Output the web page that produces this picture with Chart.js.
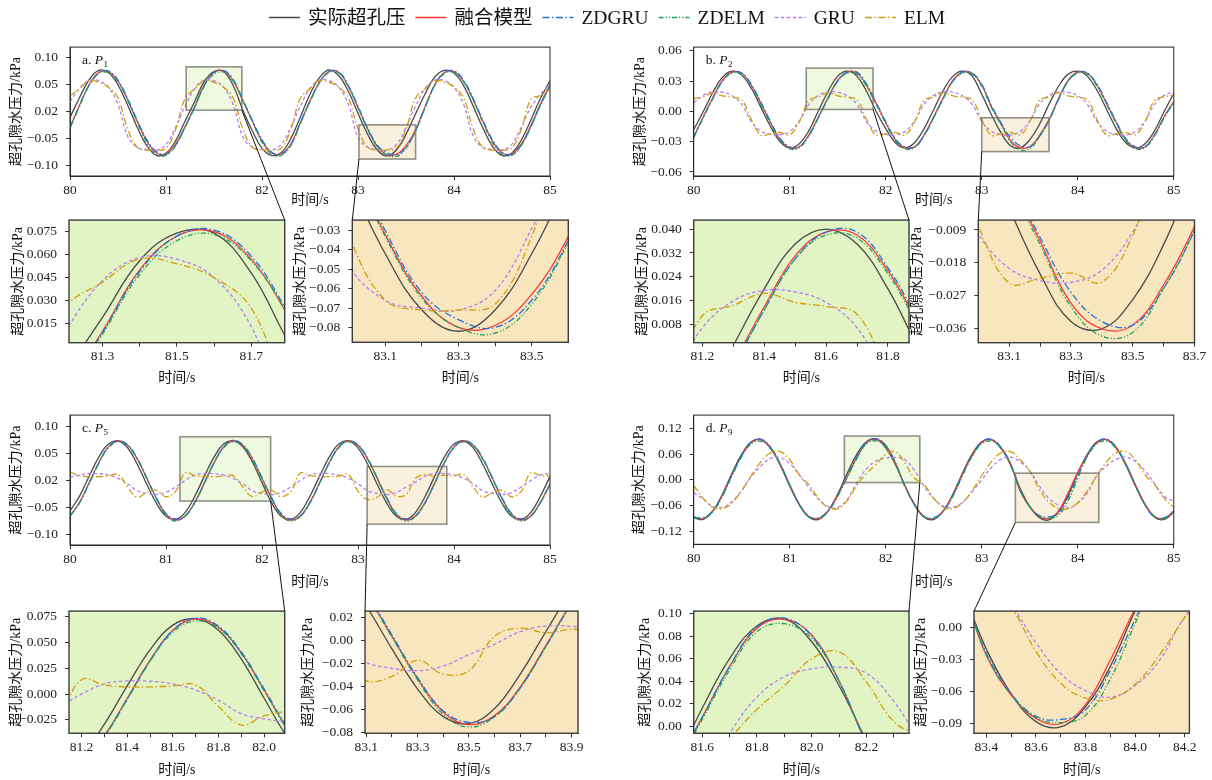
<!DOCTYPE html>
<html>
<head>
<meta charset="utf-8">
<script src="https://cdn.jsdelivr.net/npm/chart.js@4.4.0/dist/chart.umd.min.js"></script>
<style>
body { margin: 0; background: #fff; width: 1212px; height: 780px; position: relative; overflow: hidden; }
canvas { position: absolute; }
</style>
</head>
<body>
<script>
// time axis shared by every panel (s)
const times = [80.0,80.1,80.2,80.3,80.4,80.5,80.6,80.7,80.8,80.9,81.0,81.1,81.2,81.3,81.4,81.5,81.6,81.7,81.8,81.9,82.0,82.1,82.2,82.3,82.4,82.5,82.6,82.7,82.8,82.9,83.0,83.1,83.2,83.3,83.4,83.5,83.6,83.7,83.8,83.9,84.0,84.1,84.2,84.3,84.4,84.5,84.6,84.7,84.8,84.9,85.0];

const seriesNames = ['实际超孔压', '融合模型', 'ZDGRU', 'ZDELM', 'GRU', 'ELM'];

// ---- a. P1 ----
const aActual = [-0.011,0.026,0.059,0.076,0.072,0.049,0.012,-0.029,-0.063,-0.081,-0.077,-0.054,
 -0.017,0.019,0.056,0.074,0.074,0.048,0.003,-0.036,-0.068,-0.081,-0.076,-0.050,
 -0.010,0.032,0.063,0.077,0.066,0.037,-0.003,-0.042,-0.071,-0.082,-0.071,-0.042,
 -0.004,0.033,0.064,0.076,0.071,0.048,0.010,-0.030,-0.064,-0.081,-0.077,-0.053,
 -0.016,0.024,0.057];
const aFusion = [-0.029,0.012,0.050,0.072,0.074,0.056,0.022,-0.018,-0.054,-0.076,-0.078,-0.060,
 -0.027,0.010,0.050,0.072,0.075,0.057,0.020,-0.018,-0.054,-0.076,-0.078,-0.060,
 -0.020,0.020,0.055,0.074,0.072,0.046,0.008,-0.032,-0.064,-0.080,-0.079,-0.063,
 -0.033,0.010,0.050,0.072,0.074,0.056,0.022,-0.018,-0.054,-0.076,-0.078,-0.060,
 -0.026,0.014,0.050];
const aZdgru = [-0.030,0.011,0.049,0.071,0.075,0.058,0.024,-0.016,-0.052,-0.074,-0.079,-0.062,
 -0.028,0.009,0.049,0.072,0.076,0.059,0.022,-0.016,-0.052,-0.075,-0.079,-0.061,
 -0.021,0.019,0.054,0.074,0.073,0.048,0.010,-0.030,-0.062,-0.076,-0.080,-0.066,
 -0.035,0.008,0.049,0.072,0.075,0.058,0.024,-0.016,-0.052,-0.075,-0.079,-0.062,
 -0.028,0.012,0.048];
const aZdelm = [-0.031,0.010,0.048,0.070,0.072,0.055,0.021,-0.020,-0.057,-0.079,-0.081,-0.063,
 -0.029,0.008,0.047,0.069,0.073,0.056,0.021,-0.019,-0.057,-0.079,-0.081,-0.063,
 -0.022,0.018,0.053,0.072,0.071,0.046,0.007,-0.033,-0.065,-0.080,-0.083,-0.068,
 -0.036,0.007,0.048,0.070,0.072,0.055,0.021,-0.020,-0.057,-0.079,-0.081,-0.063,
 -0.029,0.011,0.047];
const aGru = [0.018,0.043,0.058,0.057,0.045,0.013,-0.045,-0.066,-0.070,-0.071,-0.061,-0.029,
 0.010,0.043,0.058,0.057,0.045,0.013,-0.047,-0.066,-0.070,-0.071,-0.061,-0.029,
 0.010,0.043,0.058,0.057,0.045,0.013,-0.047,-0.066,-0.070,-0.071,-0.061,-0.029,
 0.010,0.043,0.058,0.057,0.045,0.013,-0.045,-0.066,-0.070,-0.071,-0.061,-0.029,
 0.008,0.032,0.050];
const aElm = [0.029,0.042,0.057,0.054,0.045,0.025,-0.032,-0.066,-0.071,-0.071,-0.068,-0.033,
 0.025,0.042,0.057,0.054,0.045,0.025,-0.032,-0.066,-0.071,-0.071,-0.068,-0.033,
 0.025,0.042,0.057,0.054,0.045,0.025,-0.032,-0.066,-0.071,-0.071,-0.068,-0.033,
 0.025,0.042,0.057,0.054,0.045,0.025,-0.032,-0.066,-0.071,-0.071,-0.068,-0.033,
 0.022,0.030,0.040];

// ---- b. P2 ----
const bActual = [-0.018,0.000,0.019,0.034,0.040,0.036,0.023,0.004,-0.015,-0.030,-0.036,-0.032,
 -0.019,0.001,0.020,0.035,0.040,0.035,0.020,0.000,-0.017,-0.031,-0.036,-0.031,
 -0.017,0.002,0.021,0.035,0.040,0.035,0.017,-0.003,-0.021,-0.034,-0.036,-0.028,
 -0.013,0.007,0.025,0.037,0.040,0.035,0.021,0.002,-0.017,-0.031,-0.036,-0.032,
 -0.019,0.000,0.018];
const bFusion = [-0.025,-0.005,0.014,0.031,0.039,0.038,0.026,0.008,-0.011,-0.028,-0.036,-0.035,
 -0.023,-0.005,0.014,0.031,0.039,0.038,0.026,0.008,-0.011,-0.028,-0.036,-0.035,
 -0.023,-0.005,0.014,0.031,0.039,0.038,0.026,0.005,-0.012,-0.029,-0.036,-0.035,
 -0.024,-0.008,0.013,0.031,0.039,0.038,0.026,0.008,-0.011,-0.028,-0.036,-0.035,
 -0.023,-0.005,0.010];
const bZdgru = [-0.026,-0.006,0.013,0.030,0.039,0.038,0.027,0.009,-0.010,-0.027,-0.035,-0.035,
 -0.024,-0.006,0.013,0.030,0.039,0.039,0.027,0.009,-0.010,-0.027,-0.035,-0.035,
 -0.024,-0.006,0.013,0.030,0.039,0.038,0.027,0.006,-0.011,-0.026,-0.034,-0.035,
 -0.025,-0.009,0.012,0.030,0.039,0.038,0.027,0.009,-0.010,-0.027,-0.035,-0.035,
 -0.024,-0.006,0.009];
const bZdelm = [-0.025,-0.006,0.013,0.030,0.038,0.037,0.025,0.007,-0.012,-0.029,-0.037,-0.036,
 -0.024,-0.006,0.013,0.030,0.038,0.037,0.025,0.007,-0.012,-0.029,-0.037,-0.036,
 -0.024,-0.006,0.013,0.030,0.038,0.037,0.025,0.004,-0.013,-0.030,-0.038,-0.037,
 -0.025,-0.009,0.012,0.030,0.038,0.037,0.025,0.007,-0.012,-0.029,-0.037,-0.036,
 -0.024,-0.006,0.009];
const bGru = [0.0085,0.016,0.0195,0.019,0.0155,0.007,-0.010,-0.0195,-0.0228,-0.0233,-0.020,-0.0095,
 0.007,0.016,0.0195,0.019,0.0155,0.007,-0.010,-0.0195,-0.0228,-0.0233,-0.020,-0.0095,
 0.007,0.016,0.0195,0.019,0.0155,0.007,-0.010,-0.0195,-0.0228,-0.0233,-0.020,-0.0095,
 0.007,0.016,0.0195,0.019,0.0155,0.007,-0.010,-0.0195,-0.0228,-0.0233,-0.020,-0.0095,
 0.007,0.016,0.019];
const bElm = [0.0125,0.0145,0.0185,0.0155,0.0141,0.0115,-0.008,-0.0235,-0.0222,-0.0208,-0.0232,-0.0105,
 0.011,0.0145,0.0185,0.0155,0.0141,0.0115,-0.008,-0.0235,-0.0222,-0.0208,-0.0232,-0.0105,
 0.011,0.0145,0.0185,0.0155,0.0141,0.0115,-0.008,-0.0235,-0.0222,-0.0208,-0.0232,-0.0105,
 0.011,0.0145,0.0185,0.0155,0.0141,0.0115,-0.008,-0.0235,-0.0222,-0.0208,-0.0232,-0.0105,
 0.011,0.0145,0.016];

// ---- c. P5 ----
const cActual = [-0.056,-0.029,0.008,0.043,0.067,0.073,0.060,0.030,-0.007,-0.042,-0.066,-0.072,
 -0.059,-0.029,0.008,0.043,0.067,0.073,0.062,0.034,-0.004,-0.041,-0.066,-0.072,
 -0.059,-0.029,0.008,0.043,0.067,0.073,0.060,0.030,-0.007,-0.042,-0.066,-0.072,
 -0.059,-0.029,0.008,0.043,0.067,0.073,0.060,0.030,-0.007,-0.042,-0.066,-0.072,
 -0.059,-0.029,0.007];
const cFusion = [-0.066,-0.040,-0.004,0.033,0.062,0.073,0.065,0.040,0.004,-0.033,-0.062,-0.073,
 -0.065,-0.040,-0.004,0.033,0.062,0.073,0.065,0.040,0.004,-0.033,-0.062,-0.073,
 -0.065,-0.040,-0.004,0.033,0.062,0.073,0.065,0.040,0.004,-0.033,-0.062,-0.073,
 -0.065,-0.040,-0.004,0.033,0.062,0.073,0.065,0.040,0.004,-0.033,-0.062,-0.073,
 -0.065,-0.040,-0.006];
const cZdgru = [-0.066,-0.041,-0.005,0.032,0.062,0.073,0.066,0.041,0.005,-0.032,-0.061,-0.071,
 -0.066,-0.041,-0.005,0.032,0.062,0.074,0.066,0.041,0.005,-0.032,-0.061,-0.071,
 -0.066,-0.041,-0.005,0.032,0.062,0.073,0.066,0.041,0.005,-0.032,-0.061,-0.071,
 -0.066,-0.041,-0.005,0.032,0.062,0.073,0.066,0.041,0.005,-0.032,-0.061,-0.071,
 -0.066,-0.041,-0.007];
const cZdelm = [-0.066,-0.041,-0.005,0.032,0.060,0.071,0.064,0.039,0.003,-0.034,-0.064,-0.075,
 -0.066,-0.041,-0.005,0.032,0.060,0.071,0.064,0.039,0.003,-0.034,-0.064,-0.075,
 -0.066,-0.041,-0.005,0.032,0.060,0.071,0.064,0.039,0.003,-0.034,-0.064,-0.075,
 -0.066,-0.041,-0.005,0.032,0.060,0.071,0.064,0.039,0.003,-0.034,-0.064,-0.075,
 -0.066,-0.041,-0.007];
const cGru = [0.006,0.010,0.0128,0.0125,0.010,0.004,-0.006,-0.019,-0.024,-0.026,-0.022,-0.012,
 0.000,0.010,0.0128,0.0125,0.010,0.004,-0.006,-0.019,-0.024,-0.026,-0.022,-0.012,
 0.000,0.010,0.0128,0.0125,0.010,0.004,-0.006,-0.019,-0.024,-0.026,-0.022,-0.012,
 -0.003,0.008,0.0128,0.0125,0.010,0.004,-0.006,-0.019,-0.024,-0.026,-0.022,-0.012,
 0.000,0.010,0.0128];
const cElm = [0.016,0.009,0.007,0.007,0.008,0.011,-0.012,-0.031,-0.022,-0.018,-0.030,-0.020,
 0.014,0.009,0.007,0.007,0.008,0.009,-0.012,-0.030,-0.021,-0.018,-0.030,-0.020,
 0.014,0.009,0.007,0.007,0.008,0.011,-0.020,-0.035,-0.031,-0.017,-0.029,-0.026,
 0.004,0.011,0.007,0.010,0.008,0.011,-0.012,-0.031,-0.022,-0.018,-0.030,-0.020,
 0.014,0.009,0.008];

// ---- d. P9 ----
const dActual = [-0.088,-0.092,-0.072,-0.033,0.016,0.060,0.089,0.094,0.074,0.035,-0.014,-0.058,
 -0.087,-0.092,-0.072,-0.033,0.016,0.060,0.089,0.095,0.075,0.036,-0.013,-0.058,
 -0.087,-0.092,-0.072,-0.033,0.016,0.060,0.089,0.094,0.074,0.035,-0.020,-0.062,
 -0.088,-0.093,-0.074,-0.036,0.016,0.060,0.089,0.094,0.074,0.035,-0.014,-0.058,
 -0.087,-0.092,-0.075];
const dFusion = [-0.086,-0.090,-0.072,-0.035,0.013,0.057,0.087,0.094,0.076,0.038,-0.011,-0.056,
 -0.085,-0.090,-0.072,-0.035,0.008,0.053,0.087,0.095,0.081,0.040,-0.015,-0.056,
 -0.085,-0.090,-0.072,-0.035,0.013,0.057,0.087,0.094,0.076,0.038,-0.026,-0.063,
 -0.085,-0.090,-0.072,-0.030,0.018,0.057,0.087,0.094,0.076,0.038,-0.011,-0.056,
 -0.085,-0.090,-0.072];
const dZdgru = [-0.087,-0.088,-0.072,-0.036,0.012,0.057,0.088,0.095,0.076,0.037,-0.012,-0.057,
 -0.086,-0.088,-0.072,-0.036,0.008,0.053,0.088,0.096,0.080,0.040,-0.015,-0.057,
 -0.086,-0.088,-0.072,-0.036,0.012,0.057,0.088,0.095,0.076,0.037,-0.024,-0.062,
 -0.083,-0.086,-0.077,-0.040,0.008,0.057,0.088,0.095,0.076,0.037,-0.012,-0.057,
 -0.086,-0.088,-0.073];
const dZdelm = [-0.087,-0.090,-0.074,-0.038,0.010,0.054,0.084,0.090,0.073,0.036,-0.012,-0.058,
 -0.086,-0.090,-0.074,-0.038,0.006,0.050,0.084,0.091,0.078,0.040,-0.015,-0.058,
 -0.086,-0.090,-0.074,-0.038,0.010,0.054,0.084,0.090,0.073,0.036,-0.025,-0.063,
 -0.084,-0.089,-0.082,-0.048,0.004,0.054,0.084,0.090,0.073,0.036,-0.012,-0.058,
 -0.086,-0.090,-0.075];
const dGru = [-0.030,-0.045,-0.062,-0.064,-0.050,-0.024,0.008,0.033,0.050,0.052,0.038,0.012,
 -0.018,-0.045,-0.062,-0.064,-0.045,-0.006,0.026,0.044,0.051,0.0525,0.047,0.022,
 -0.015,-0.043,-0.061,-0.064,-0.052,-0.027,0.000,0.029,0.048,0.053,0.042,0.021,
 -0.014,-0.043,-0.059,-0.065,-0.054,-0.030,0.010,0.033,0.048,0.053,0.043,0.021,
 -0.009,-0.038,-0.050];
const dElm = [-0.013,-0.043,-0.064,-0.067,-0.053,-0.025,0.010,0.042,0.063,0.066,0.047,0.012,
 -0.011,-0.043,-0.064,-0.067,-0.048,-0.012,0.015,0.036,0.060,0.066,0.039,0.004,
 -0.011,-0.043,-0.064,-0.067,-0.053,-0.025,0.010,0.042,0.063,0.066,0.047,0.020,
 -0.022,-0.052,-0.066,-0.067,-0.053,-0.025,0.010,0.042,0.063,0.066,0.047,0.012,
 -0.011,-0.043,-0.064];

// zoom windows [xmin, xmax, ymin, ymax]
const aWin1 = [81.21, 81.79, 0.0025, 0.0825];
const aWin2 = [83.01, 83.60, -0.0877, -0.0246];
const bWin1 = [81.172, 81.868, 0.002, 0.043];
const bWin2 = [83.0, 83.7, -0.0398, -0.0063];
const cWin1 = [81.145, 82.09, -0.038, 0.0806];
const cWin2 = [83.095, 83.925, -0.0805, 0.0258];
const dWin1 = [81.569, 82.355, -0.0062, 0.1022];
const dWin2 = [83.35, 84.219, -0.099, 0.0158];

// tick values and labels
const mainXTicks = [80, 81, 82, 83, 84, 85];
const mainXLabels = ['80', '81', '82', '83', '84', '85'];
const acYTicks = [0.10, 0.05, 0, -0.05, -0.10];
const acYLabels = ['0.10', '0.05', '0.02', '−0.05', '−0.10'];
const bYTicks = [0.06, 0.03, 0, -0.03, -0.06];
const bYLabels = ['0.06', '0.03', '0.00', '−0.03', '−0.06'];
const dYTicks = [0.12, 0.06, 0, -0.06, -0.12];
const dYLabels = ['0.12', '0.06', '0.00', '−0.06', '−0.12'];

const a1XTicks = [81.3, 81.4, 81.5, 81.6, 81.7];
const a1XLabels = ['81.3', '', '81.5', '', '81.7'];
const a1YTicks = [0.075, 0.060, 0.045, 0.030, 0.015];
const a1YLabels = ['0.075', '0.060', '0.045', '0.030', '0.015'];
const a2XTicks = [83.1, 83.2, 83.3, 83.4, 83.5];
const a2XLabels = ['83.1', '', '83.3', '', '83.5'];
const a2YTicks = [-0.03, -0.04, -0.05, -0.06, -0.07, -0.08];
const a2YLabels = ['−0.03', '−0.04', '−0.05', '−0.06', '−0.07', '−0.08'];
const b1XTicks = [81.2, 81.3, 81.4, 81.5, 81.6, 81.7, 81.8];
const b1XLabels = ['81.2', '', '81.4', '', '81.6', '', '81.8'];
const b1YTicks = [0.040, 0.032, 0.024, 0.016, 0.008];
const b1YLabels = ['0.040', '0.032', '0.024', '0.016', '0.008'];
const b2XTicks = [83.1, 83.2, 83.3, 83.4, 83.5, 83.6, 83.7];
const b2XLabels = ['83.1', '', '83.3', '', '83.5', '', '83.7'];
const b2YTicks = [-0.009, -0.018, -0.027, -0.036];
const b2YLabels = ['−0.009', '−0.018', '−0.027', '−0.036'];
const c1XTicks = [81.2, 81.3, 81.4, 81.5, 81.6, 81.7, 81.8, 81.9, 82.0];
const c1XLabels = ['81.2', '', '81.4', '', '81.6', '', '81.8', '', '82.0'];
const c1YTicks = [0.075, 0.050, 0.025, 0, -0.025];
const c1YLabels = ['0.075', '0.050', '0.025', '0.000', '−0.025'];
const c2XTicks = [83.1, 83.2, 83.3, 83.4, 83.5, 83.6, 83.7, 83.8, 83.9];
const c2XLabels = ['83.1', '', '83.3', '', '83.5', '', '83.7', '', '83.9'];
const c2YTicks = [0.02, 0, -0.02, -0.04, -0.06, -0.08];
const c2YLabels = ['0.02', '0.00', '−0.02', '−0.04', '−0.06', '−0.08'];
const d1XTicks = [81.6, 81.7, 81.8, 81.9, 82.0, 82.1, 82.2, 82.3];
const d1XLabels = ['81.6', '', '81.8', '', '82.0', '', '82.2', ''];
const d1YTicks = [0.10, 0.08, 0.06, 0.04, 0.02, 0];
const d1YLabels = ['0.10', '0.08', '0.06', '0.04', '0.02', '0.00'];
const d2XTicks = [83.4, 83.5, 83.6, 83.7, 83.8, 83.9, 84.0, 84.1, 84.2];
const d2XLabels = ['83.4', '', '83.6', '', '83.8', '', '84.0', '', '84.2'];
const d2YTicks = [0, -0.03, -0.06, -0.09];
const d2YLabels = ['0.00', '−0.03', '−0.06', '−0.09'];

const FONT = "'Liberation Serif', 'Noto Sans CJK SC', serif";
const keys = ['actual', 'fusion', 'zdgru', 'zdelm', 'gru', 'elm'];
const COLORS = { actual: '#4a4a4a', fusion: '#ff3131', zdgru: '#1f6fe5', zdelm: '#22a05a', gru: '#b47ff0', elm: '#d39e0c' };
const DASH = { actual: [], fusion: [], zdgru: [7, 2.5, 1.5, 2.5], zdelm: [5, 2, 1.2, 2, 1.2, 2], gru: [3.5, 2.5], elm: [7, 2.5, 1.5, 2.5] };
const GREEN_BG = '#e2f4c4', TAN_BG = '#f8e6be';

Chart.defaults.animation = false;
Chart.defaults.events = [];
Chart.defaults.font.family = FONT;

const boxPlugin = {
  id: 'box',
  beforeDatasetsDraw(chart, args, o) {
    const ctx = chart.ctx, a = chart.chartArea;
    ctx.save();
    if (o.bg) {
      ctx.fillStyle = o.bg;
      ctx.fillRect(a.left, a.top, a.right - a.left, a.bottom - a.top);
    }
    (o.rects || []).forEach(r => {
      const x0 = chart.scales.x.getPixelForValue(r.win[0]), x1 = chart.scales.x.getPixelForValue(r.win[1]);
      const y0 = chart.scales.y.getPixelForValue(r.win[2]), y1 = chart.scales.y.getPixelForValue(r.win[3]);
      ctx.fillStyle = r.fill;
      ctx.fillRect(x0, y1, x1 - x0, y0 - y1);
    });
    ctx.restore();
  },
  afterDatasetsDraw(chart, args, o) {
    const ctx = chart.ctx, a = chart.chartArea;
    ctx.save();
    (o.rects || []).forEach(r => {
      const x0 = chart.scales.x.getPixelForValue(r.win[0]), x1 = chart.scales.x.getPixelForValue(r.win[1]);
      const y0 = chart.scales.y.getPixelForValue(r.win[2]), y1 = chart.scales.y.getPixelForValue(r.win[3]);
      ctx.strokeStyle = 'rgba(110,110,100,0.75)';
      ctx.lineWidth = 1.6;
      ctx.strokeRect(x0, y1, x1 - x0, y0 - y1);
    });
    ctx.strokeStyle = o.bg ? '#3c3c3c' : '#222';
    ctx.lineWidth = o.bg ? 1.4 : 1;
    ctx.strokeRect(a.left, a.top, a.right - a.left, a.bottom - a.top);
    if (o.letter) {
      let x = a.left + 12, y = a.top + 16.5;
      ctx.fillStyle = '#111';
      ctx.font = '13.5px ' + FONT;
      ctx.fillText(o.letter + '. ', x, y);
      x += ctx.measureText(o.letter + '. ').width;
      ctx.font = 'italic 13.5px ' + FONT;
      ctx.fillText('P', x, y);
      x += ctx.measureText('P').width + 0.5;
      ctx.font = '9px ' + FONT;
      ctx.fillText(o.sub, x, y + 3);
    }
    ctx.restore();
  }
};
Chart.register(boxPlugin);

function makeSets(vals) {
  return keys.map((k, i) => ({
    label: seriesNames[i],
    data: times.map((t, j) => ({ x: t, y: vals[i][j] })),
    borderColor: COLORS[k],
    borderDash: DASH[k],
    borderWidth: k === 'fusion' ? 1.2 : 1.3,
    pointRadius: 0,
    tension: 0.4,
    fill: false,
    clip: 0,
    order: 6 - i
  }));
}

function axis(min, max, ticks, labels, fit, title, pad) {
  return {
    type: 'linear', min: min, max: max,
    afterFit: fit,
    afterBuildTicks: s => { s.ticks = ticks.map(v => ({ value: v })); },
    ticks: { callback: (v, i) => labels[i], font: { family: FONT, size: 13.5 }, color: '#222', padding: pad, maxRotation: 0, autoSkip: false },
    grid: { drawOnChartArea: false, drawTicks: true, tickLength: 4, color: '#333', tickColor: '#333' },
    border: { display: true, color: '#333', width: 1 },
    title: { display: true, text: title, font: { family: FONT, size: 14 }, color: '#111', padding: 0 }
  };
}

function build(spec) {
  const [l, t, r, b] = spec.area;
  const cl = Math.floor(spec.yTitleX - 8.4);
  const ct = Math.floor(t - 10);
  const cw = Math.ceil(r + 16 - cl);
  const ch = Math.ceil(spec.xTitleY + 8.4 - ct);
  const cv = document.createElement('canvas');
  cv.width = cw; cv.height = ch;
  cv.style.left = cl + 'px'; cv.style.top = ct + 'px';
  document.body.appendChild(cv);
  const yW = l - cl;
  const xH = ch - (b - ct);
  const chart = new Chart(cv, {
    type: 'line',
    data: { datasets: makeSets(spec.vals) },
    options: {
      responsive: false,
      maintainAspectRatio: false,
      layout: { padding: { top: t - ct, right: cl + cw - r, left: 0, bottom: 0 } },
      scales: {
        x: axis(spec.xr[0], spec.xr[1], spec.xt, spec.xl, s => { s.height = xH; }, '时间/s', 2),
        y: axis(spec.yr[0], spec.yr[1], spec.yt, spec.yl, s => { s.width = yW; }, '超孔隙水压力/kPa', 8)
      },
      plugins: {
        legend: { display: false },
        tooltip: { enabled: false },
        box: { bg: spec.bg, rects: spec.rects, letter: spec.letter, sub: spec.sub }
      }
    }
  });
  const dr = cl + chart.chartArea.right - r;
  if (Math.abs(dr) > 0.3) {
    chart.options.layout.padding.right += dr;
    chart.update('none');
  }
  chart.$left = cl; chart.$top = ct;
  return chart;
}

const greenRect = 'rgba(205,238,165,0.35)', tanRect = 'rgba(238,212,160,0.35)';
const aVals = [aActual, aFusion, aZdgru, aZdelm, aGru, aElm];
const bVals = [bActual, bFusion, bZdgru, bZdelm, bGru, bElm];
const cVals = [cActual, cFusion, cZdgru, cZdelm, cGru, cElm];
const dVals = [dActual, dFusion, dZdgru, dZdelm, dGru, dElm];

const chA = build({ area: [70, 41, 550, 176], yTitleX: 17, xTitleY: 200, vals: aVals, xr: [80, 85], yr: [-0.119, 0.119], xt: mainXTicks, xl: mainXLabels, yt: acYTicks, yl: acYLabels, letter: 'a', sub: '1', rects: [{ win: aWin1, fill: greenRect }, { win: aWin2, fill: tanRect }] });
const chA1 = build({ area: [69, 214.7, 284.7, 342.7], yTitleX: 19, xTitleY: 378, vals: aVals, xr: [aWin1[0], aWin1[1]], yr: [aWin1[2], aWin1[3]], xt: a1XTicks, xl: a1XLabels, yt: a1YTicks, yl: a1YLabels, bg: GREEN_BG });
const chA2 = build({ area: [352.3, 214.7, 568.3, 342.3], yTitleX: 300.4, xTitleY: 378, vals: aVals, xr: [aWin2[0], aWin2[1]], yr: [aWin2[2], aWin2[3]], xt: a2XTicks, xl: a2XLabels, yt: a2YTicks, yl: a2YLabels, bg: TAN_BG });

const chB = build({ area: [693.7, 41, 1173.8, 176], yTitleX: 640.6, xTitleY: 200, vals: bVals, xr: [80, 85], yr: [-0.064, 0.0638], xt: mainXTicks, xl: mainXLabels, yt: bYTicks, yl: bYLabels, letter: 'b', sub: '2', rects: [{ win: bWin1, fill: greenRect }, { win: bWin2, fill: tanRect }] });
const chB1 = build({ area: [693.7, 214.7, 909, 342.7], yTitleX: 643, xTitleY: 378, vals: bVals, xr: [bWin1[0], bWin1[1]], yr: [bWin1[2], bWin1[3]], xt: b1XTicks, xl: b1XLabels, yt: b1YTicks, yl: b1YLabels, bg: GREEN_BG });
const chB2 = build({ area: [978.3, 214.7, 1194.5, 342.7], yTitleX: 918, xTitleY: 378, vals: bVals, xr: [bWin2[0], bWin2[1]], yr: [bWin2[2], bWin2[3]], xt: b2XTicks, xl: b2XLabels, yt: b2YTicks, yl: b2YLabels, bg: TAN_BG });

const chC = build({ area: [70, 409.3, 550, 545], yTitleX: 16.6, xTitleY: 581.7, vals: cVals, xr: [80, 85], yr: [-0.119, 0.1205], xt: mainXTicks, xl: mainXLabels, yt: acYTicks, yl: acYLabels, letter: 'c', sub: '5', rects: [{ win: cWin1, fill: greenRect }, { win: cWin2, fill: tanRect }] });
const chC1 = build({ area: [69, 605.7, 284.7, 733.3], yTitleX: 17, xTitleY: 770, vals: cVals, xr: [cWin1[0], cWin1[1]], yr: [cWin1[2], cWin1[3]], xt: c1XTicks, xl: c1XLabels, yt: c1YTicks, yl: c1YLabels, bg: GREEN_BG });
const chC2 = build({ area: [365, 605.7, 578, 733.3], yTitleX: 308.5, xTitleY: 770, vals: cVals, xr: [cWin2[0], cWin2[1]], yr: [cWin2[2], cWin2[3]], xt: c2XTicks, xl: c2XLabels, yt: c2YTicks, yl: c2YLabels, bg: TAN_BG });

const chD = build({ area: [693.7, 409.3, 1173.8, 544.3], yTitleX: 640, xTitleY: 581.7, vals: dVals, xr: [80, 85], yr: [-0.150, 0.151], xt: mainXTicks, xl: mainXLabels, yt: dYTicks, yl: dYLabels, letter: 'd', sub: '9', rects: [{ win: dWin1, fill: greenRect }, { win: dWin2, fill: tanRect }] });
const chD1 = build({ area: [693.7, 605.7, 909, 733.3], yTitleX: 646, xTitleY: 770, vals: dVals, xr: [dWin1[0], dWin1[1]], yr: [dWin1[2], dWin1[3]], xt: d1XTicks, xl: d1XLabels, yt: d1YTicks, yl: d1YLabels, bg: GREEN_BG });
const chD2 = build({ area: [974, 605.7, 1189.4, 733.3], yTitleX: 921.7, xTitleY: 770, vals: dVals, xr: [dWin2[0], dWin2[1]], yr: [dWin2[2], dWin2[3]], xt: d2XTicks, xl: d2XLabels, yt: d2YTicks, yl: d2YLabels, bg: TAN_BG });

// overlay: legend + connector lines
const ov = document.createElement('canvas');
ov.width = 1212; ov.height = 780;
ov.style.left = '0px'; ov.style.top = '0px'; ov.style.zIndex = 10;
document.body.appendChild(ov);
const ctx = ov.getContext('2d');

function connect(main, zoom, win, side) {
  const px = main.$left + main.scales.x.getPixelForValue(side === 'right' ? win[1] : win[0]);
  const py = main.$top + main.scales.y.getPixelForValue(win[2]);
  const za = zoom.chartArea;
  const qx = zoom.$left + (side === 'right' ? za.right : za.left);
  const qy = zoom.$top + za.top;
  ctx.beginPath();
  ctx.moveTo(px, py);
  ctx.lineTo(qx, qy);
  ctx.stroke();
}
ctx.strokeStyle = '#111';
ctx.lineWidth = 1;
connect(chA, chA1, aWin1, 'right');
connect(chA, chA2, aWin2, 'left');
connect(chB, chB1, bWin1, 'right');
connect(chB, chB2, bWin2, 'left');
connect(chC, chC1, cWin1, 'right');
connect(chC, chC2, cWin2, 'left');
connect(chD, chD1, dWin1, 'right');
connect(chD, chD2, dWin2, 'left');

// legend
ctx.font = '19.5px ' + FONT;
const lineLen = 31, gapA = 8, gapB = 10;
let total = 0;
seriesNames.forEach((n, i) => { total += lineLen + gapA + ctx.measureText(n).width + (i < 5 ? gapB : 0); });
let lx = 607 - total / 2;
const ly = 17.5;
ctx.textBaseline = 'middle';
seriesNames.forEach((n, i) => {
  const k = keys[i];
  ctx.strokeStyle = COLORS[k];
  ctx.lineWidth = 1.5;
  ctx.setLineDash(DASH[k]);
  ctx.beginPath();
  ctx.moveTo(lx, ly);
  ctx.lineTo(lx + lineLen, ly);
  ctx.stroke();
  ctx.setLineDash([]);
  lx += lineLen + gapA;
  ctx.fillStyle = '#111';
  ctx.fillText(n, lx, ly + 1);
  lx += ctx.measureText(n).width + gapB;
});
</script>
</body>
</html>
